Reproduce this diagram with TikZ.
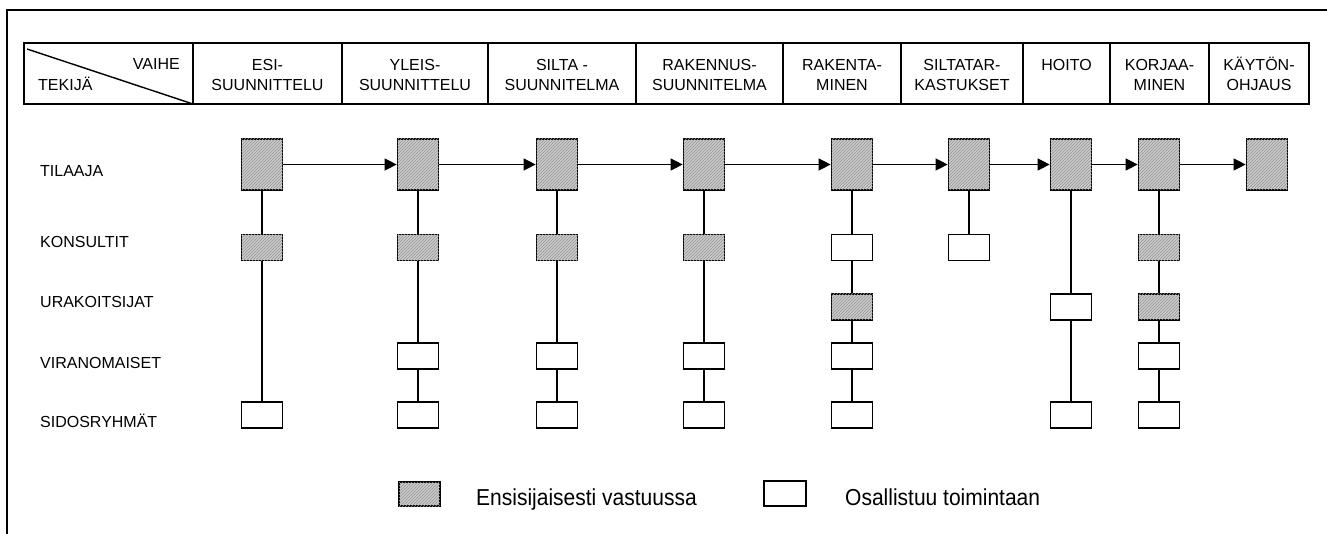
\documentclass[tikz,border=0pt]{standalone}
\usepackage{fontspec}
\setmainfont{Liberation Sans}
\usetikzlibrary{arrows.meta,patterns}
\newcommand\hd[2]{\begin{tabular}[t]{@{}c@{}}#1\\#2\end{tabular}}
\newcommand\tallish[1]{\scalebox{1}[1.1]{#1}}
\begin{document}
\begin{tikzpicture}[x=1pt,y=-1pt,
  hatchbox/.style={draw,line width=1.7pt,inner sep=0pt,fill=black!20,
     postaction={pattern=north east lines,pattern color=black!42}},
  plainbox/.style={draw,line width=1.7pt,inner sep=0pt,fill=white},
  tallbox/.style={minimum width=41pt,minimum height=51pt},
  shortbox/.style={minimum width=41pt,minimum height=26pt},
  conn/.style={line width=1.3pt},
  flow/.style={line width=1.3pt,-{Triangle[length=12pt,width=12pt]}},
  hdtext/.style={font=\fontsize{16}{20}\selectfont,inner sep=0pt,anchor=base},
  rowtext/.style={font=\fontsize{16}{18}\selectfont,inner sep=0pt,anchor=base west},
  legtext/.style={font=\fontsize{21}{24}\selectfont,inner sep=0pt,anchor=base west}]
\useasboundingbox (0,0) rectangle (1327,534);
% outer frame (partially visible)
\draw[line width=2pt] (7,534) -- (7,10) -- (1327,10);
% header table
\draw[line width=1.8pt] (24,43) rectangle (1309,104);
\foreach \xx in {193,342,488,636,783,901,1023,1110,1209}
  \draw[line width=2.6pt] (\xx,43) -- (\xx,104);
\draw[line width=1.4pt] (27,49) -- (193,104);
\node[hdtext,anchor=base east] (vaihe) at (180,70) {VAIHE};
\node[hdtext,anchor=base west] (tekija) at (38,91) {TEKIJÄ};
\node[hdtext] (h1) at (267.5,71) {\hd{ESI-}{SUUNNITTELU}};
\node[hdtext] (h2) at (415,71) {\hd{YLEIS-}{SUUNNITTELU}};
\node[hdtext] (h3) at (562,71) {\hd{SILTA -}{SUUNNITELMA}};
\node[hdtext] (h4) at (709.5,71) {\hd{RAKENNUS-}{SUUNNITELMA}};
\node[hdtext] (h5) at (842,71) {\hd{RAKENTA-}{MINEN}};
\node[hdtext] (h6) at (962,71) {\hd{SILTATAR-}{KASTUKSET}};
\node[hdtext] (h7) at (1066.5,71) {HOITO};
\node[hdtext] (h8) at (1159.5,71) {\hd{KORJAA-}{MINEN}};
\node[hdtext] (h9) at (1259,71) {\hd{KÄYTÖN-}{OHJAUS}};
% row labels
\node[rowtext] (lT) at (40,177) {TILAAJA};
\node[rowtext] (lK) at (40,248) {KONSULTIT};
\node[rowtext] (lU) at (40,308) {URAKOITSIJAT};
\node[rowtext] (lV) at (40,368) {VIRANOMAISET};
\node[rowtext] (lS) at (40,427) {SIDOSRYHMÄT};
% TILAAJA row
\foreach \n/\xx in {1/262,2/418,3/557,4/704,5/852,6/969,7/1071,8/1159,9/1267}
  \node[hatchbox,tallbox] (T\n) at (\xx,164.5) {};
% column 1
\node[hatchbox,shortbox] (K1) at (262,247.5) {};
\node[plainbox,shortbox] (S1) at (262,415) {};
% columns 2-4
\foreach \n/\xx in {2/418,3/557,4/704}{
  \node[hatchbox,shortbox] (K\n) at (\xx,247.5) {};
  \node[plainbox,shortbox] (V\n) at (\xx,356) {};
  \node[plainbox,shortbox] (S\n) at (\xx,415) {};
}
% column 5
\node[plainbox,shortbox] (K5) at (852,247.5) {};
\node[hatchbox,shortbox] (U5) at (852,307) {};
\node[plainbox,shortbox] (V5) at (852,356) {};
\node[plainbox,shortbox] (S5) at (852,415) {};
% column 6
\node[plainbox,shortbox] (K6) at (969,247.5) {};
% column 7
\node[plainbox,shortbox] (U7) at (1071,307) {};
\node[plainbox,shortbox] (S7) at (1071,415) {};
% column 8
\node[hatchbox,shortbox] (K8) at (1159,247.5) {};
\node[hatchbox,shortbox] (U8) at (1159,307) {};
\node[plainbox,shortbox] (V8) at (1159,356) {};
\node[plainbox,shortbox] (S8) at (1159,415) {};
% vertical connectors
\draw[conn] (T1) -- (K1); \draw[conn] (K1) -- (S1);
\foreach \n in {2,3,4}{
  \draw[conn] (T\n) -- (K\n); \draw[conn] (K\n) -- (V\n); \draw[conn] (V\n) -- (S\n);
}
\draw[conn] (T5) -- (K5); \draw[conn] (K5) -- (U5); \draw[conn] (U5) -- (V5); \draw[conn] (V5) -- (S5);
\draw[conn] (T6) -- (K6);
\draw[conn] (T7) -- (U7); \draw[conn] (U7) -- (S7);
\draw[conn] (T8) -- (K8); \draw[conn] (K8) -- (U8); \draw[conn] (U8) -- (V8); \draw[conn] (V8) -- (S8);
% flow arrows
\foreach \a/\b in {1/2,2/3,3/4,4/5,5/6,6/7,7/8,8/9}
  \draw[flow] (T\a.east) -- (T\b.west);
% legend
\node[hatchbox,minimum width=41pt,minimum height=24pt] (legH) at (419.5,494) {};
\node[legtext] (legHt) at (476,505) {\tallish{Ensisijaisesti vastuussa}};
\node[plainbox,minimum width=42pt,minimum height=25pt] (legW) at (785,493.5) {};
\node[legtext] (legWt) at (845,505) {\tallish{Osallistuu toimintaan}};
\end{tikzpicture}
\end{document}
